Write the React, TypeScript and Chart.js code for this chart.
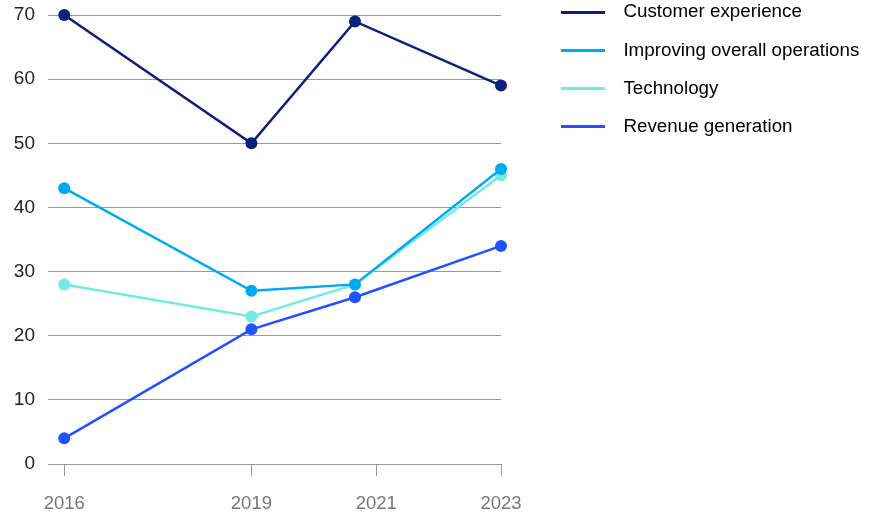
import React, { useEffect, useRef } from "react";
import { Chart, registerables } from "chart.js";

Chart.register(...registerables);

// ---- data ----
const surveyYears = [2016, 2019, 2020.66, 2023];
const xTickYears = [2016, 2019, 2021, 2023];
const seriesNames = [
  "Customer experience",
  "Improving overall operations",
  "Technology",
  "Revenue generation",
];
const customerExperience = [70, 50, 69, 59];
const improvingOperations = [43, 27, 28, 46];
const technology = [28, 23, 28, 45];
const revenueGeneration = [4, 21, 26, 34];
const seriesColors = ["#0b1f7c", "#00a9f4", "#72ebe3", "#2251ff"];
const yTicks = [0, 10, 20, 30, 40, 50, 60, 70];

const X_MIN = 2015.74;
const X_MAX = 2023;

const FONT = "'Liberation Sans', Arial, sans-serif";
const FONT_SIZE = 18.5;
const LEGEND_FONT_SIZE = 18.8;
const LEGEND_PAD = 19.4;

function lineSwatch(color: string): HTMLCanvasElement {
  const c = document.createElement("canvas");
  c.width = 53;
  c.height = 3;
  const ctx = c.getContext("2d")!;
  ctx.fillStyle = color;
  ctx.fillRect(0, 0, 44, 3);
  return c;
}

const legendPlace = {
  id: "legendPlace",
  afterLayout(chart: any) {
    const lg = chart.legend;
    if (!lg) return;
    const w = lg.width;
    const h = lg.height;
    lg.left = 561 - LEGEND_PAD;
    lg.right = lg.left + w;
    lg.top = -16.5;
    lg.bottom = lg.top + h;
  },
};

export default function App() {
  const ref = useRef<HTMLCanvasElement>(null);

  useEffect(() => {
    if (!ref.current) return;
    const all = [customerExperience, improvingOperations, technology, revenueGeneration];
    const swatches = seriesColors.map(lineSwatch);
    const chart = new Chart(ref.current, {
      type: "line",
      data: {
        datasets: all.map((vals, i) => ({
          label: seriesNames[i],
          data: vals.map((v, j) => ({ x: surveyYears[j], y: v })),
          borderColor: seriesColors[i],
          backgroundColor: seriesColors[i],
          pointBackgroundColor: seriesColors[i],
          pointBorderWidth: 0,
          pointRadius: 6,
          pointHoverRadius: 6,
          borderWidth: 2.5,
          tension: 0,
          clip: false as any,
        })),
      },
      options: {
        animation: false,
        responsive: false,
        layout: { padding: { top: 0, left: 0, right: 0, bottom: 0 } },
        font: { family: FONT },
        plugins: {
          tooltip: { enabled: false },
          legend: {
            position: "right",
            align: "start",
            maxWidth: 360,
            labels: {
              usePointStyle: true,
              pointStyleWidth: 53,
              padding: LEGEND_PAD,
              color: "#222",
              font: { family: FONT, size: LEGEND_FONT_SIZE },
              generateLabels: (ch: any) =>
                ch.data.datasets.map((ds: any, i: number) => ({
                  text: ds.label,
                  fillStyle: seriesColors[i],
                  strokeStyle: seriesColors[i],
                  lineWidth: 0,
                  pointStyle: swatches[i],
                  datasetIndex: i,
                  hidden: false,
                })),
            },
          },
        },
        scales: {
          x: {
            type: "linear",
            min: X_MIN,
            max: X_MAX,
            afterBuildTicks: (scale: any) => {
              scale.ticks = xTickYears.map((v) => ({ value: v }));
            },
            afterFit: (scale: any) => {
              scale.height = 52;
              scale.paddingRight = 875 - 501;
              scale.paddingLeft = 0;
            },
            grid: {
              drawOnChartArea: false,
              drawTicks: true,
              tickLength: 12,
              color: "#999",
            },
            border: { display: false },
            ticks: {
              padding: 17,
              color: "#777",
              font: { family: FONT, size: FONT_SIZE },
              callback: (v: any) => String(v),
              maxRotation: 0,
              autoSkip: false,
            },
          },
          y: {
            min: 0,
            max: 70,
            afterBuildTicks: (scale: any) => {
              scale.ticks = yTicks.map((v) => ({ value: v }));
            },
            afterFit: (scale: any) => {
              scale.width = 48;
              scale.paddingTop = 15;
            },
            grid: { color: "#999", drawTicks: false },
            border: { display: false },
            ticks: {
              padding: 13,
              color: "#222",
              font: { family: FONT, size: 19 },
            },
          },
        },
      },
      plugins: [legendPlace],
    });
    return () => chart.destroy();
  }, []);

  return (
    <div style={{ position: "absolute", left: 0, top: 0, width: 875, height: 516, background: "#fff" }}>
      <canvas ref={ref} width={875} height={516} style={{ display: "block" }} />
    </div>
  );
}
